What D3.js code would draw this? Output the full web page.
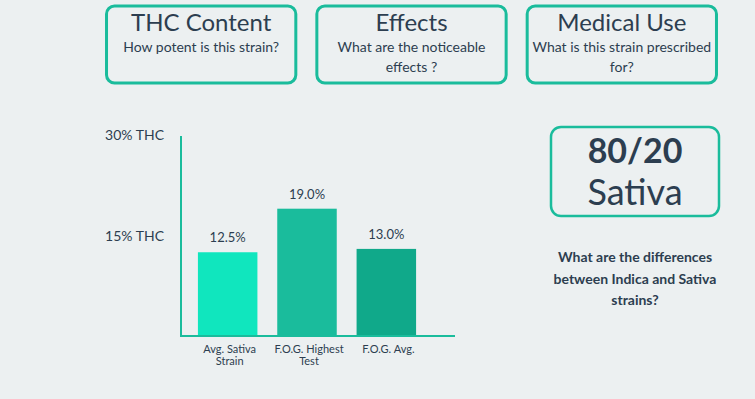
<!DOCTYPE html>
<html>
<head>
<meta charset="utf-8">
<script src="https://cdn.jsdelivr.net/npm/d3@7"></script>
<style>
  html, body { margin: 0; padding: 0; background: #ecf0f1; }
  svg { display: block; font-family: Lato, sans-serif; }
</style>
</head>
<body>
<svg id="chart"></svg>
<script>
// Data
const categories = [["Avg. Sativa", "Strain"], ["F.O.G. Highest", "Test"], ["F.O.G. Avg."]];
const thcValues = [12.5, 19.0, 13.0];
const barColors = ["#10e6be", "#1abc9c", "#10a98a"];
const yTicks = [15, 30];
const yTickLabels = ["15% THC", "30% THC"];

const boxTitles = ["THC Content", "Effects", "Medical Use"];
const boxSubtitles = [["How potent is this strain?"], ["What are the noticeable", "effects ?"], ["What is this strain prescribed", "for?"]];
const ratioLines = ["80/20", "Sativa"];
const questionLines = ["What are the differences", "between Indica and Sativa", "strains?"];

const width = 755, height = 399;
const teal = "#1abc9c";
const ink = "#2c3e50";

const svg = d3.select("#chart")
    .attr("width", width)
    .attr("height", height);

// Top boxes
const boxX = d3.scaleBand()
    .domain(boxTitles)
    .range([96, 727])
    .paddingInner(0.1)
    .paddingOuter(0.05);

const box = svg.selectAll("g.box")
    .data(boxTitles)
    .join("g")
    .attr("class", "box")
    .attr("transform", d => `translate(${boxX(d)},6)`);

box.append("rect")
    .attr("width", boxX.bandwidth())
    .attr("height", 77)
    .attr("rx", 8)
    .attr("fill", "none")
    .attr("stroke", teal)
    .attr("stroke-width", 3);

box.append("text")
    .attr("x", boxX.bandwidth() / 2)
    .attr("y", 25)
    .attr("text-anchor", "middle")
    .attr("fill", ink)
    .style("font-size", "24px")
    .text(d => d);

box.each(function(d, i) {
    d3.select(this).selectAll("text.sub")
        .data(boxSubtitles[i])
        .join("text")
        .attr("class", "sub")
        .attr("x", boxX.bandwidth() / 2)
        .attr("y", (s, j) => 45.5 + j * 20)
        .attr("text-anchor", "middle")
        .attr("fill", ink)
        .style("font-size", "14px")
        .text(s => s);
});

// Bar chart
const x = d3.scaleBand()
    .domain(d3.range(thcValues.length))
    .range([188, 426])
    .paddingInner(0.25)
    .paddingOuter(0.125);

const y = d3.scaleLinear()
    .domain([0, 30])
    .range([336, 135]);

svg.selectAll("rect.bar")
    .data(thcValues)
    .join("rect")
    .attr("class", "bar")
    .attr("x", (d, i) => x(i))
    .attr("y", d => y(d))
    .attr("width", x.bandwidth())
    .attr("height", d => y(0) - y(d))
    .attr("fill", (d, i) => barColors[i]);

svg.selectAll("text.value")
    .data(thcValues)
    .join("text")
    .attr("class", "value")
    .attr("x", (d, i) => x(i) + x.bandwidth() / 2)
    .attr("y", d => y(d) - 10)
    .attr("text-anchor", "middle")
    .attr("fill", ink)
    .style("font-size", "13px")
    .text(d => d.toFixed(1) + "%");

// axes lines
svg.append("line")
    .attr("x1", 181).attr("x2", 181)
    .attr("y1", y(30) + 1).attr("y2", y(0) + 1)
    .attr("stroke", teal)
    .attr("stroke-width", 2);

svg.append("line")
    .attr("x1", 180).attr("x2", 455)
    .attr("y1", y(0)).attr("y2", y(0))
    .attr("stroke", teal)
    .attr("stroke-width", 2);

// y tick labels
svg.selectAll("text.ytick")
    .data(yTicks)
    .join("text")
    .attr("class", "ytick")
    .attr("x", 164)
    .attr("y", d => y(d) + 5)
    .attr("text-anchor", "end")
    .attr("fill", ink)
    .style("font-size", "14px")
    .text((d, i) => yTickLabels[i]);

// category labels
categories.forEach((lines, i) => {
    svg.selectAll(null)
        .data(lines)
        .join("text")
        .attr("x", x(i) + x.bandwidth() / 2 + 2)
        .attr("y", (s, j) => 353 + j * 12)
        .attr("text-anchor", "middle")
        .attr("fill", ink)
        .style("font-size", "11px")
        .text(s => s);
});

// Ratio box
const ratio = svg.append("g").attr("transform", "translate(551,127)");
ratio.append("rect")
    .attr("width", 168)
    .attr("height", 89)
    .attr("rx", 10)
    .attr("fill", "none")
    .attr("stroke", teal)
    .attr("stroke-width", 2.5);

ratio.selectAll("text")
    .data(ratioLines)
    .join("text")
    .attr("x", 84)
    .attr("y", (d, i) => 36 + i * 42)
    .attr("text-anchor", "middle")
    .attr("fill", ink)
    .style("font-size", (d, i) => i === 0 ? "34px" : "36px")
    .style("font-weight", (d, i) => i === 0 ? "bold" : "normal")
    .text(d => d);

svg.selectAll("text.question")
    .data(questionLines)
    .join("text")
    .attr("class", "question")
    .attr("x", 635)
    .attr("y", (d, i) => 262 + i * 21.5)
    .attr("text-anchor", "middle")
    .attr("fill", ink)
    .style("font-size", "14px")
    .style("font-weight", "bold")
    .text(d => d);
</script>
</body>
</html>
